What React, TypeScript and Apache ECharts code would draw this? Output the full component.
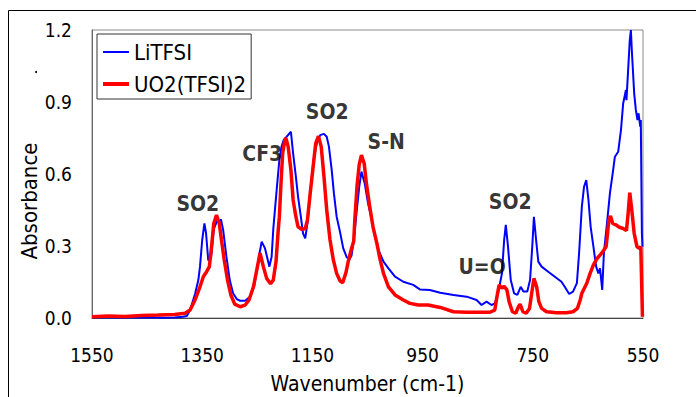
import React, { useEffect, useRef } from "react";
import * as echarts from "echarts";

const FONT = "'DejaVu Sans Condensed', 'DejaVu Sans', sans-serif";

const seriesNames = ["LiTFSI", "UO2(TFSI)2"];
const xTicks = [1550, 1350, 1150, 950, 750, 550];
const yTicks = [0.0, 0.3, 0.6, 0.9, 1.2];

// LiTFSI (blue)
const liWave = [
  1550, 1500, 1450, 1420, 1400, 1385, 1378, 1372, 1363, 1357, 1354, 1350, 1346, 1343, 1339, 1334,
  1329, 1323, 1320, 1316, 1312, 1306, 1300, 1294, 1287, 1281, 1272, 1263, 1256, 1250, 1246, 1242,
  1236, 1231, 1228, 1224, 1221, 1215, 1210, 1206, 1202, 1197, 1189, 1185, 1180, 1176, 1171, 1167,
  1163, 1159, 1154, 1148, 1142, 1136, 1129, 1124, 1120, 1115, 1111, 1106, 1100, 1094, 1088, 1083,
  1079, 1075, 1070, 1065, 1061, 1055, 1049, 1042, 1036, 1030, 1021, 1012, 1000, 985, 967, 955,
  937, 918, 894, 870, 852, 843, 834, 825, 819, 813, 806, 802, 799, 795, 790, 784, 778, 772, 767,
  760, 755, 751, 748, 744, 740, 734, 722, 710, 698, 692, 684, 677, 670, 666, 661, 657, 653, 649,
  645, 640, 635, 631, 628, 624, 621, 616, 610, 605, 601, 595, 590, 586, 581, 580, 577, 574, 572,
  570, 566, 563, 560, 558, 555, 554, 552, 551
];
const liAbs = [
  0.003, 0.002, 0.003, 0.001, 0.002, 0.005, 0.008, 0.033, 0.1, 0.158, 0.214, 0.325, 0.394, 0.353, 0.24, 0.25,
  0.37, 0.405, 0.4, 0.411, 0.367, 0.255, 0.158, 0.103, 0.078, 0.072, 0.072, 0.089, 0.13, 0.207, 0.27, 0.318,
  0.29, 0.242, 0.214, 0.255, 0.37, 0.53, 0.658, 0.714, 0.742, 0.755, 0.776, 0.686, 0.589, 0.505, 0.422, 0.353,
  0.332, 0.394, 0.52, 0.658, 0.728, 0.762, 0.767, 0.755, 0.714, 0.617, 0.52, 0.422, 0.36, 0.29, 0.255, 0.242,
  0.26, 0.32, 0.436, 0.547, 0.61, 0.56, 0.478, 0.408, 0.339, 0.283, 0.235, 0.207, 0.172, 0.151, 0.138, 0.119,
  0.117, 0.105, 0.096, 0.089, 0.075, 0.054, 0.068, 0.054, 0.061, 0.103, 0.186, 0.325, 0.388, 0.297, 0.158, 0.103, 0.096, 0.13, 0.11,
  0.11, 0.158, 0.297, 0.422, 0.325, 0.235, 0.214, 0.193, 0.172, 0.151, 0.13, 0.1, 0.11, 0.145, 0.27, 0.464, 0.547, 0.575, 0.492,
  0.38, 0.297, 0.214, 0.186, 0.207, 0.117, 0.27, 0.38, 0.52, 0.603, 0.672, 0.693, 0.783, 0.894, 0.95, 0.908, 1.033, 1.158, 1.2,
  1.103, 0.936, 0.867, 0.825, 0.853, 0.797, 0.825, 0.353, 0.297
];

// UO2(TFSI)2 (red)
const uoWave = [
  1550, 1520, 1490, 1460, 1430, 1400, 1381, 1372, 1363, 1354, 1348, 1342, 1337, 1333, 1329, 1324,
  1319, 1315, 1310, 1304, 1298, 1291, 1281, 1272, 1265, 1257, 1251, 1245, 1239, 1233, 1226, 1221,
  1216, 1212, 1210, 1207, 1204, 1200, 1198, 1194, 1189, 1185, 1180, 1176, 1169, 1163, 1159, 1154,
  1148, 1144, 1139, 1134, 1129, 1124, 1118, 1112, 1106, 1100, 1095, 1089, 1085, 1079, 1075, 1073,
  1069, 1065, 1061, 1056, 1052, 1046, 1040, 1033, 1027, 1021, 1012, 1000, 985, 973, 958, 940,
  918, 894, 870, 846, 828, 819, 814, 811, 806, 802, 797, 793, 787, 781, 776, 773, 768, 762,
  756, 752, 748, 743, 739, 734, 725, 707, 689, 677, 669, 664, 661, 652, 646, 640, 633, 625,
  617, 615, 612, 609, 605, 599, 593, 586, 580, 577, 574, 571, 566, 561, 557, 554, 551
];
const uoAbs = [
  0.005, 0.008, 0.006, 0.01, 0.012, 0.015, 0.02, 0.033, 0.075, 0.13, 0.172, 0.193, 0.214, 0.297, 0.394, 0.429,
  0.394, 0.325, 0.242, 0.158, 0.096, 0.058, 0.047, 0.054, 0.075, 0.13, 0.2, 0.27, 0.214, 0.165, 0.143, 0.158,
  0.235, 0.367, 0.42, 0.561, 0.686, 0.742, 0.749, 0.714, 0.617, 0.492, 0.422, 0.38, 0.369, 0.373, 0.408, 0.52,
  0.644, 0.728, 0.758, 0.714, 0.589, 0.45, 0.325, 0.242, 0.186, 0.155, 0.147, 0.19, 0.235, 0.29, 0.32, 0.41,
  0.55, 0.64, 0.679, 0.644, 0.561, 0.464, 0.38, 0.311, 0.242, 0.186, 0.13, 0.096, 0.075, 0.061, 0.054, 0.054,
  0.044, 0.026, 0.024, 0.024, 0.024, 0.033, 0.103, 0.138, 0.124, 0.132, 0.117, 0.068, 0.026, 0.02, 0.047, 0.058, 0.026, 0.02,
  0.04, 0.103, 0.165, 0.13, 0.068, 0.04, 0.026, 0.022, 0.022, 0.026, 0.04, 0.075, 0.103, 0.145, 0.186, 0.221, 0.249, 0.27,
  0.297, 0.339, 0.408, 0.425, 0.394, 0.388, 0.378, 0.373, 0.364, 0.436, 0.522, 0.464, 0.353, 0.297, 0.29, 0.297, 0.005
];

// peak annotations
const annoWave = [1358, 1241, 1123, 1016, 842, 791];
const annoAbs = [0.473, 0.683, 0.86, 0.735, 0.214, 0.485];
const annoText = ["SO2", "CF3", "SO2", "S-N", "U=O", "SO2"];

function zip(xs: number[], ys: number[]) {
  return xs.map((x, i) => [x, ys[i]]);
}

export default function App() {
  const ref = useRef<HTMLDivElement>(null);
  useEffect(() => {
    if (!ref.current) return;
    const chart = echarts.init(ref.current, undefined, { renderer: "svg" });
    chart.setOption({
      animation: false,
      backgroundColor: "#ffffff",
      textStyle: { fontFamily: FONT },
      grid: {
        left: 92,
        right: 53,
        top: 30,
        bottom: 79,
        containLabel: false,
        outerBoundsMode: "none",
        show: true,
        borderColor: "#8a8a8a",
        borderWidth: 1,
        backgroundColor: "transparent",
      },
      legend: {
        orient: "vertical",
        left: 97,
        top: 34,
        itemWidth: 26,
        itemHeight: 14,
        itemGap: 10,
        padding: [7, 5, 4, 6],
        borderColor: "#333333",
        borderWidth: 1,
        backgroundColor: "#ffffff",
        textStyle: { fontSize: 22, fontFamily: FONT, color: "#000" },
        data: [
          { name: seriesNames[0], icon: "path://M0,0M0,14M0,6H26V8H0Z" },
          { name: seriesNames[1], icon: "path://M0,0M0,14M0,5H26V9H0Z" },
        ],
      },
      xAxis: {
        type: "value",
        min: xTicks[xTicks.length - 1],
        max: xTicks[0],
        interval: 200,
        inverse: true,
        name: "Wavenumber (cm-1)",
        nameLocation: "middle",
        nameGap: 55,
        nameTextStyle: { fontSize: 21, fontFamily: FONT, color: "#000" },
        axisLine: { show: true, onZero: false, lineStyle: { color: "#444444", width: 1 } },
        axisTick: { show: false },
        splitLine: { show: false },
        axisLabel: {
          fontSize: 19,
          fontFamily: FONT,
          color: "#000",
          margin: 27,
          formatter: (v: number) => String(v),
        },
      },
      yAxis: {
        type: "value",
        min: yTicks[0],
        max: yTicks[yTicks.length - 1],
        interval: 0.3,
        axisLine: { show: true, lineStyle: { color: "#666666", width: 1 } },
        axisTick: { show: false },
        splitLine: { show: false },
        axisLabel: {
          fontSize: 19,
          fontFamily: FONT,
          color: "#000",
          margin: 20,
          formatter: (v: number) => v.toFixed(1),
        },
      },
      graphic: [
        {
          type: "rect",
          shape: { x: 8.5, y: 10.5, width: 800, height: 500 },
          style: { fill: "none", stroke: "#000", lineWidth: 1 },
          silent: true,
          z: -10,
        },
        {
          type: "text",
          x: 29,
          y: 201,
          rotation: Math.PI / 2,
          style: {
            text: "Absorbance",
            fontSize: 22,
            fontFamily: FONT,
            fill: "#000",
            align: "center",
            verticalAlign: "middle",
          },
        },
        {
          type: "circle",
          shape: { cx: 36, cy: 72, r: 1 },
          style: { fill: "#000" },
        },
      ],
      series: [
        {
          name: seriesNames[0],
          type: "line",
          data: zip(liWave, liAbs),
          symbol: "none",
          lineStyle: { color: "#0000ff", width: 2 },
          itemStyle: { color: "#0000ff" },
          z: 3,
        },
        {
          name: seriesNames[1],
          type: "line",
          data: zip(uoWave, uoAbs),
          symbol: "none",
          lineStyle: { color: "#ff0000", width: 3.5 },
          itemStyle: { color: "#ff0000" },
          z: 4,
        },
        {
          name: "annotations",
          type: "scatter",
          data: annoWave.map((w, i) => [w, annoAbs[i], annoText[i]]),
          symbolSize: 1,
          itemStyle: { color: "rgba(0,0,0,0)" },
          z: 5,
          label: {
            show: true,
            position: "inside",
            formatter: (p: any) => p.value[2],
            fontSize: 21,
            fontWeight: "bold",
            fontFamily: FONT,
            color: "#000",
            align: "center",
            verticalAlign: "middle",
          },
        },
      ],
    });
    return () => chart.dispose();
  }, []);
  return (
    <div
      ref={ref}
      style={{ position: "fixed", left: 0, top: 0, width: 696, height: 397 }}
    />
  );
}
